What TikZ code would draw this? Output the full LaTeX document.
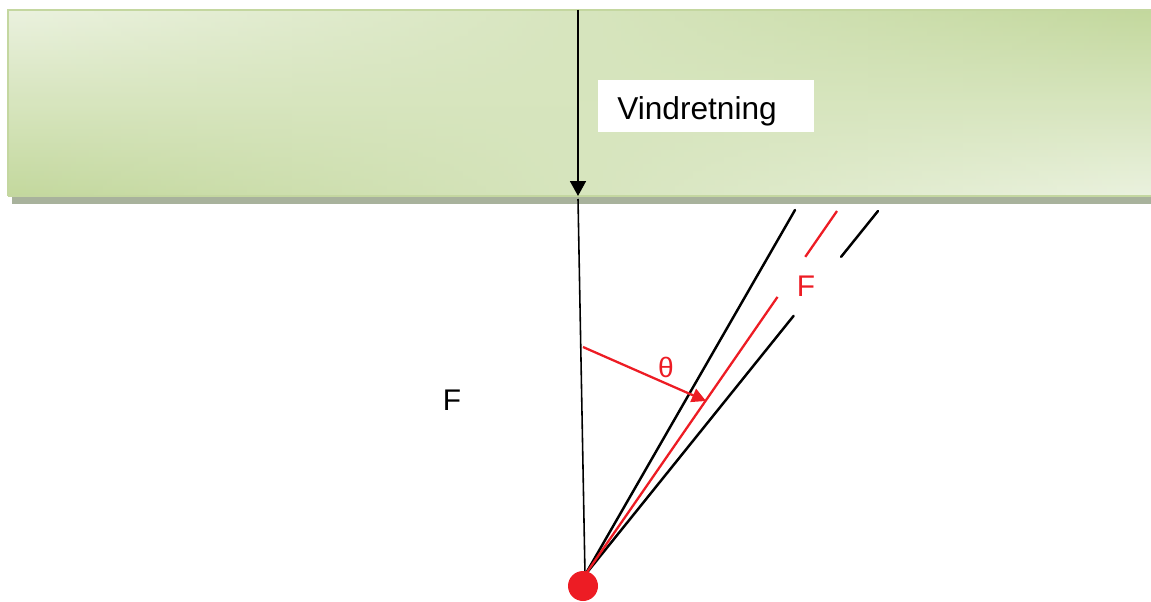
\documentclass[tikz,border=0pt]{standalone}
\usepackage{fontspec}
\setmainfont{Liberation Sans}
\usetikzlibrary{arrows.meta,calc,fadings}
\definecolor{vindred}{HTML}{ED1C24}
\definecolor{bandlight}{HTML}{EBF2DF}
\definecolor{bandgreen}{HTML}{C3D89D}
\definecolor{bandedge}{HTML}{C4D7A0}
\definecolor{bandshadow}{HTML}{A8B29C}
\tikzset{
  rope/.style={line width=1.4pt, line cap=round},
  force/.style={vindred, line width=1.3pt},
  lbl/.style={font=\fontsize{17}{20}\selectfont, inner sep=0pt}
}
\begin{document}
\begin{tikzpicture}[x=0.02cm, y=-0.02cm]
\useasboundingbox (0,0) rectangle (1151,601);

% the wind band
\fill[bandshadow] (12,196) rectangle (1151,204);
\shade[top color=bandlight, bottom color=bandgreen] (8,10) rectangle (1151,196);
\shade[top color=bandgreen, bottom color=bandlight, path fading=west] (8,10) rectangle (1151,196);
\draw[bandedge, line width=1.2pt] (8,196) -- (8,10) -- (1151,10);
\draw[bandedge, line width=1.5pt] (8,196) -- (1151,196);

\node[fill=white, minimum width=4.32cm, minimum height=1.06cm] (vindbox) at (706,106) {};
\node[lbl, font=\fontsize{18}{20}\selectfont, anchor=base west] (vind) at (617,120) {Vindretning};

\coordinate (top) at (578,10);
\coordinate (hit) at (578,196);
\coordinate (hang) at (578,199);
\coordinate (base) at (585,575);
\coordinate (left) at (795,210);
\coordinate (right) at (878,211);
\coordinate (redtop) at (837,211);
\coordinate (thstart) at (583,347);
\coordinate (thend) at (706,401);

\draw[-{Triangle[length=8.5pt, width=9pt]}, line width=1.2pt] (top) -- (hit);
\draw[line width=0.9pt] (hang) -- (base);

\draw[rope] (base) -- (left);
\draw[rope] (base) -- ($(base)!0.712!(right)$);
\draw[rope] ($(base)!0.874!(right)$) -- (right);
\draw[force] (base) -- ($(base)!0.764!(redtop)$);
\draw[force] ($(base)!0.874!(redtop)$) -- (redtop);

\draw[force, -{Triangle[length=8pt, width=8pt]}] (thstart) -- (thend);
\node[lbl, vindred, font=\fontsize{16}{18}\selectfont] (theta) at (666,367) {θ};
\node[lbl, vindred] (fred) at (806,286) {F};
\node[lbl] (fblack) at (452,400) {F};

\node[circle, fill=vindred, minimum size=0.6cm, inner sep=0pt] (ball) at (583,586) {};
\end{tikzpicture}
\end{document}
